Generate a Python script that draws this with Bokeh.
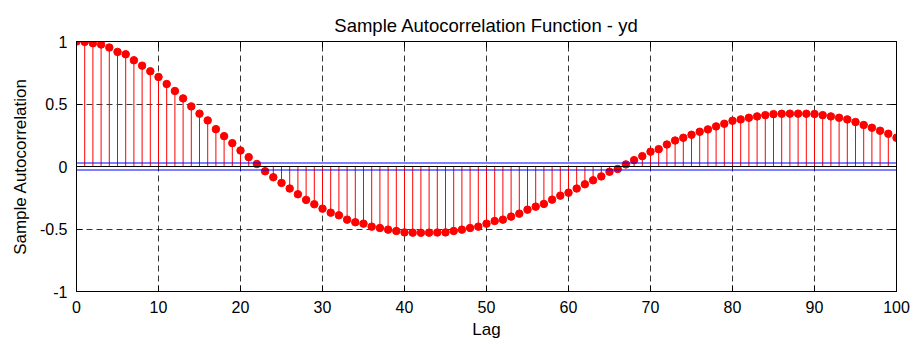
from bokeh.plotting import figure
from bokeh.models import Range1d, FixedTicker, LinearAxis, Span
from bokeh.embed import file_html
from bokeh.resources import INLINE

# Data
lags = list(range(101))
acf = [
    1.000, 0.997, 0.986, 0.976, 0.952, 0.917, 0.898, 0.850, 0.807, 0.762,
    0.716, 0.660, 0.604, 0.545, 0.481, 0.423, 0.369, 0.299, 0.243, 0.187,
    0.128, 0.075, 0.020, -0.038, -0.086, -0.131, -0.176, -0.222, -0.267, -0.302,
    -0.337, -0.369, -0.390, -0.425, -0.446, -0.457, -0.481, -0.492, -0.505, -0.516,
    -0.527, -0.529, -0.530, -0.529, -0.528, -0.527, -0.516, -0.505, -0.492, -0.481,
    -0.457, -0.436, -0.425, -0.401, -0.377, -0.345, -0.321, -0.299, -0.265, -0.233,
    -0.209, -0.176, -0.142, -0.110, -0.079, -0.042, -0.020, 0.017, 0.051, 0.083,
    0.119, 0.139, 0.176, 0.208, 0.230, 0.254, 0.278, 0.297, 0.321, 0.342,
    0.366, 0.377, 0.390, 0.401, 0.411, 0.419, 0.422, 0.423, 0.423, 0.422,
    0.420, 0.411, 0.401, 0.390, 0.377, 0.356, 0.332, 0.310, 0.286, 0.262, 0.230,
]
conf_bound = 0.028
x_ticks = [0, 10, 20, 30, 40, 50, 60, 70, 80, 90, 100]
y_ticks = [-1, -0.5, 0, 0.5, 1]
y_tick_labels = {-1: "-1", -0.5: "-0.5", 0: "0", 0.5: "0.5", 1: "1"}

FONT = "Liberation Sans"

p = figure(width=912, height=342, output_backend="svg", toolbar_location=None,
           x_range=Range1d(0, 100), y_range=Range1d(-1, 1),
           min_border_left=76, min_border_right=16, min_border_top=41,
           min_border_bottom=51)

p.title.text = "Sample Autocorrelation Function - yd"
p.title.align = "center"
p.title.text_font = FONT
p.title.text_font_size = "18.5px"
p.title.text_font_style = "normal"
p.title.text_color = "black"
p.title.standoff = 12

p.outline_line_color = "black"
p.outline_line_width = 1
p.background_fill_color = "white"
p.border_fill_color = "white"

for ax in (p.xaxis[0], p.yaxis[0]):
    ax.major_tick_in = 6
    ax.major_tick_out = 0
    ax.minor_tick_line_color = None
    ax.major_label_text_font = FONT
    ax.major_label_text_font_size = "16px"
    ax.major_label_text_color = "black"
    ax.axis_label_text_font = FONT
    ax.axis_label_text_font_size = "17px"
    ax.axis_label_text_font_style = "normal"
    ax.axis_label_text_color = "black"
    ax.axis_line_color = "black"
    ax.major_tick_line_color = "black"

p.xaxis[0].ticker = FixedTicker(ticks=x_ticks)
p.xaxis[0].axis_label = "Lag"
p.xaxis[0].major_label_standoff = 9
p.xaxis[0].axis_label_standoff = 4

p.yaxis[0].ticker = FixedTicker(ticks=y_ticks)
p.yaxis[0].major_label_overrides = y_tick_labels
p.yaxis[0].axis_label = "Sample Autocorrelation"
p.yaxis[0].major_label_standoff = 9
p.yaxis[0].axis_label_standoff = 7

# tick marks on the top and right edges of the box, without labels
top_ax = LinearAxis(ticker=FixedTicker(ticks=x_ticks), major_tick_in=6, major_tick_out=0,
                    major_label_text_color=None, minor_tick_line_color=None,
                    major_label_standoff=0)
right_ax = LinearAxis(ticker=FixedTicker(ticks=y_ticks), major_tick_in=6, major_tick_out=0,
                      major_label_text_color=None, minor_tick_line_color=None,
                      major_label_standoff=0)
p.add_layout(top_ax, "above")
p.add_layout(right_ax, "right")

p.xgrid.ticker = FixedTicker(ticks=x_ticks)
p.ygrid.ticker = FixedTicker(ticks=y_ticks)
for g in (p.xgrid, p.ygrid):
    g.grid_line_color = "black"
    g.grid_line_alpha = 0.8
    g.grid_line_dash = "6 4"
    g.grid_line_width = 1

p.segment(x0=lags, y0=[0] * len(lags), x1=lags, y1=acf, line_color="red", line_width=1)
p.scatter(lags, acf, size=7.5, fill_color="red", line_color="red", marker="circle")

p.add_layout(Span(location=0, dimension="width", line_color="black", line_width=1))
p.add_layout(Span(location=conf_bound, dimension="width", line_color="blue", line_width=1))
p.add_layout(Span(location=-conf_bound, dimension="width", line_color="blue", line_width=1))

open("out.html", "w").write(file_html(p, INLINE))
